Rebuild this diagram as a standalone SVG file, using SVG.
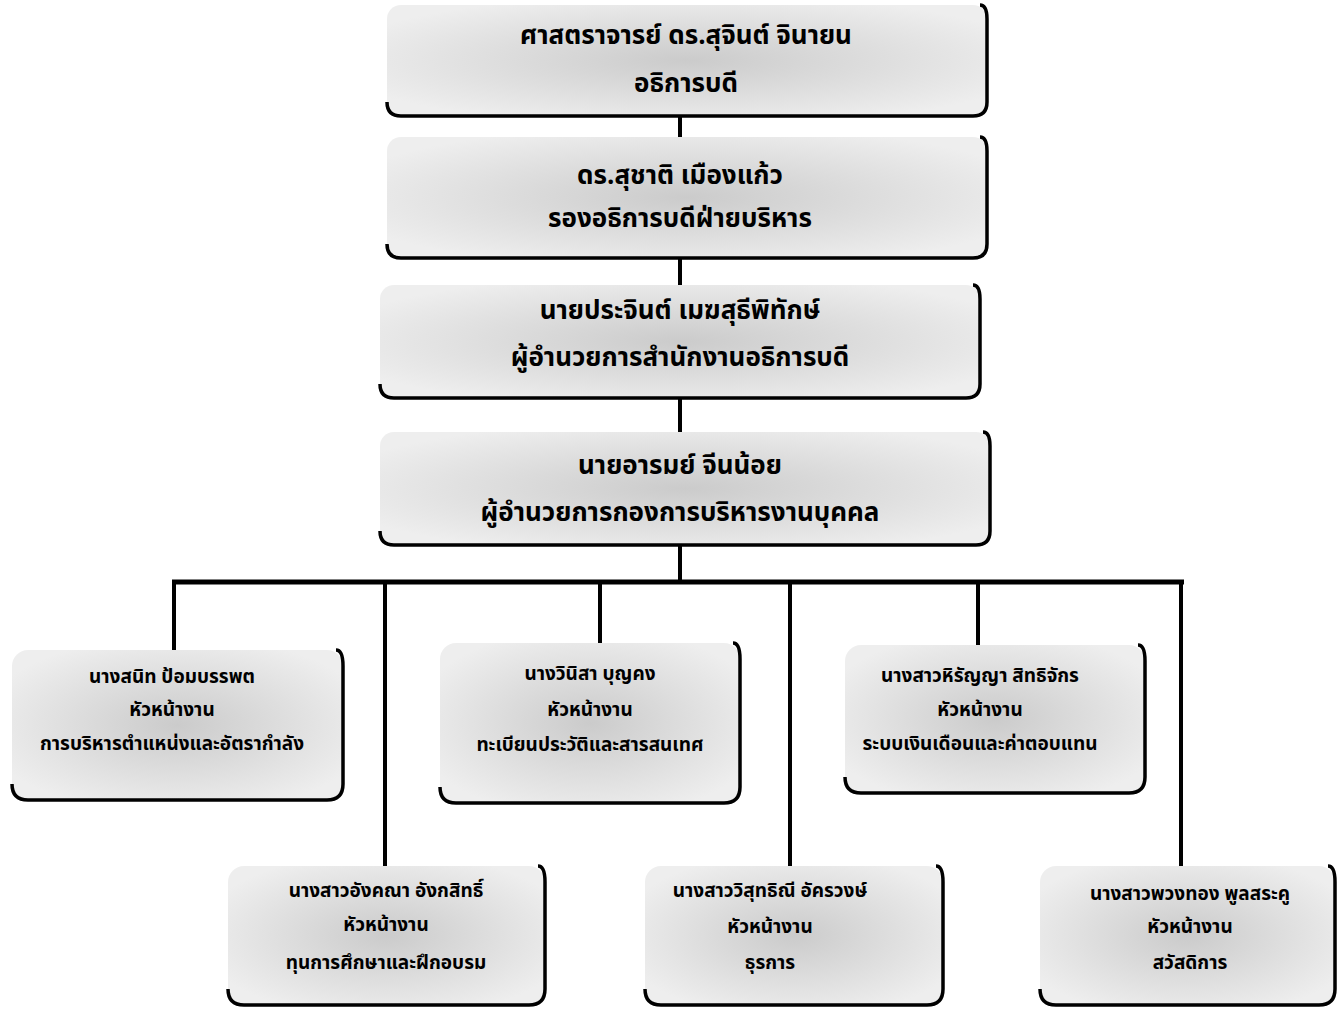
<svg xmlns="http://www.w3.org/2000/svg" width="1342" height="1009" viewBox="0 0 1342 1009">
<defs>
<radialGradient id="g" cx="50%" cy="50%" r="60%">
<stop offset="0" stop-color="#cbcbcb"/>
<stop offset="1" stop-color="#eeeeee"/>
</radialGradient>
<style>
.bg{fill:url(#g);}
.edge{fill:none;stroke:#000;stroke-width:3.5;}
.ln{stroke:#000;stroke-width:4;fill:none;}
.t1{font-family:"Noto Sans Thai","Noto Sans","DejaVu Sans",sans-serif;font-weight:bold;font-size:26px;text-anchor:middle;fill:#000;}
.t2{font-family:"Noto Sans Thai","Noto Sans","DejaVu Sans",sans-serif;font-weight:bold;font-size:19px;text-anchor:middle;fill:#000;}
</style>
</defs>
<rect width="1342" height="1009" fill="#fff"/>
<g id="connectors">
<line class="ln" x1="680" y1="116" x2="680" y2="138"/>
<line class="ln" x1="680" y1="258" x2="680" y2="286"/>
<line class="ln" x1="680" y1="398" x2="680" y2="432"/>
<line class="ln" x1="680" y1="545" x2="680" y2="582"/>
<line class="ln" x1="172" y1="582" x2="1184" y2="582" style="stroke-width:5"/>
<line class="ln" x1="174" y1="580" x2="174" y2="650"/>
<line class="ln" x1="385" y1="580" x2="385" y2="866"/>
<line class="ln" x1="600" y1="580" x2="600" y2="644"/>
<line class="ln" x1="790" y1="580" x2="790" y2="866"/>
<line class="ln" x1="978" y1="580" x2="978" y2="646"/>
<line class="ln" x1="1181" y1="580" x2="1181" y2="866"/>
</g>
<g id="n1">
<rect class="bg" x="387" y="5" width="600" height="111" rx="14"/>
<path class="edge" d="M387,102 Q387,116 401,116 L973,116 Q987,116 987,102 L987,19 Q987,5 980,5"/>
<text class="t1" x="686" y="44">ศาสตราจารย์ ดร.สุจินต์  จินายน</text>
<text class="t1" x="686" y="92">อธิการบดี</text>
</g>
<g id="n2">
<rect class="bg" x="387" y="137" width="600" height="121" rx="14"/>
<path class="edge" d="M387,244 Q387,258 401,258 L973,258 Q987,258 987,244 L987,151 Q987,137 980,137"/>
<text class="t1" x="680" y="184">ดร.สุชาติ  เมืองแก้ว</text>
<text class="t1" x="680" y="227">รองอธิการบดีฝ่ายบริหาร</text>
</g>
<g id="n3">
<rect class="bg" x="380" y="285" width="600" height="113" rx="14"/>
<path class="edge" d="M380,384 Q380,398 394,398 L966,398 Q980,398 980,384 L980,299 Q980,285 973,285"/>
<text class="t1" x="680" y="319">นายประจินต์ เมฆสุธีพิทักษ์</text>
<text class="t1" x="680" y="366">ผู้อำนวยการสำนักงานอธิการบดี</text>
</g>
<g id="n4">
<rect class="bg" x="380" y="432" width="610" height="113" rx="14"/>
<path class="edge" d="M380,531 Q380,545 394,545 L976,545 Q990,545 990,531 L990,446 Q990,432 983,432"/>
<text class="t1" x="680" y="474">นายอารมย์ จีนน้อย</text>
<text class="t1" x="680" y="521">ผู้อำนวยการกองการบริหารงานบุคคล</text>
</g>
<g id="n5">
<rect class="bg" x="12" y="650" width="331" height="150" rx="16"/>
<path class="edge" d="M12,784 Q12,800 28,800 L327,800 Q343,800 343,784 L343,666 Q343,650 336,650"/>
<text class="t2" x="172" y="683">นางสนิท  ป้อมบรรพต</text>
<text class="t2" x="172" y="716">หัวหน้างาน</text>
<text class="t2" x="172" y="750">การบริหารตำแหน่งและอัตรากำลัง</text>
</g>
<g id="n6">
<rect class="bg" x="440" y="643" width="300" height="160" rx="16"/>
<path class="edge" d="M440,787 Q440,803 456,803 L724,803 Q740,803 740,787 L740,659 Q740,643 733,643"/>
<text class="t2" x="590" y="680">นางวินิสา  บุญคง</text>
<text class="t2" x="590" y="716">หัวหน้างาน</text>
<text class="t2" x="590" y="751">ทะเบียนประวัติและสารสนเทศ</text>
</g>
<g id="n7">
<rect class="bg" x="845" y="645" width="300" height="148" rx="16"/>
<path class="edge" d="M845,777 Q845,793 861,793 L1129,793 Q1145,793 1145,777 L1145,661 Q1145,645 1138,645"/>
<text class="t2" x="980" y="682">นางสาวหิรัญญา  สิทธิจักร</text>
<text class="t2" x="980" y="716">หัวหน้างาน</text>
<text class="t2" x="980" y="750">ระบบเงินเดือนและค่าตอบแทน</text>
</g>
<g id="n8">
<rect class="bg" x="228" y="866" width="317" height="139" rx="16"/>
<path class="edge" d="M228,989 Q228,1005 244,1005 L529,1005 Q545,1005 545,989 L545,882 Q545,866 538,866"/>
<text class="t2" x="386" y="897">นางสาวอังคณา  อังกสิทธิ์</text>
<text class="t2" x="386" y="931">หัวหน้างาน</text>
<text class="t2" x="386" y="969">ทุนการศึกษาและฝึกอบรม</text>
</g>
<g id="n9">
<rect class="bg" x="645" y="866" width="298" height="139" rx="16"/>
<path class="edge" d="M645,989 Q645,1005 661,1005 L927,1005 Q943,1005 943,989 L943,882 Q943,866 936,866"/>
<text class="t2" x="770" y="897">นางสาววิสุทธิณี  อัครวงษ์</text>
<text class="t2" x="770" y="933">หัวหน้างาน</text>
<text class="t2" x="770" y="969">ธุรการ</text>
</g>
<g id="n10">
<rect class="bg" x="1040" y="866" width="295" height="139" rx="16"/>
<path class="edge" d="M1040,989 Q1040,1005 1056,1005 L1319,1005 Q1335,1005 1335,989 L1335,882 Q1335,866 1328,866"/>
<text class="t2" x="1190" y="900">นางสาวพวงทอง  พูลสระคู</text>
<text class="t2" x="1190" y="933">หัวหน้างาน</text>
<text class="t2" x="1190" y="969">สวัสดิการ</text>
</g>
</svg>
